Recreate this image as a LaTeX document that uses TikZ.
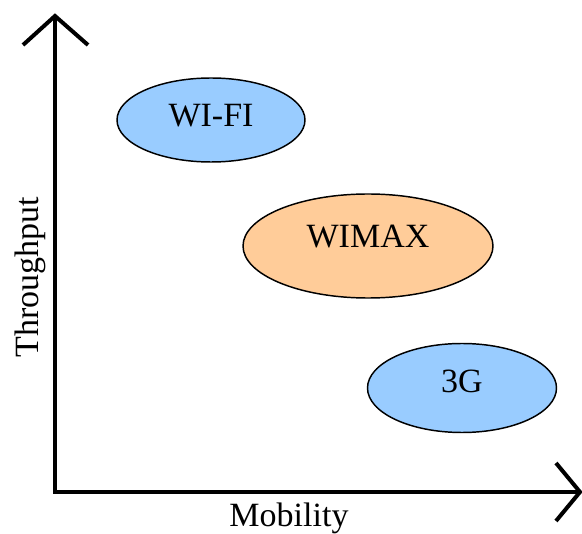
\documentclass[tikz,border=0pt]{standalone}
\usepackage{fontspec}
\setmainfont{Liberation Serif}
\usetikzlibrary{shapes.geometric}
\definecolor{netblue}{HTML}{99CCFF}
\definecolor{netorange}{HTML}{FFCC99}
\begin{document}
\begin{tikzpicture}[x=0.75pt,y=-0.75pt,
    axis/.style={line width=3pt,black,line cap=butt,line join=miter},
    tech/.style={ellipse,draw=black,line width=1.1pt,inner sep=0pt},
    lbl/.style={font=\fontsize{25.5}{30}\selectfont,inner sep=0pt,anchor=base}]
  \useasboundingbox (0,0) rectangle (582,534);
  % axes
  \coordinate (O) at (55,492);
  \coordinate (ytip) at (55,16);
  \coordinate (xtip) at (580,492);
  \draw[axis] (ytip) -- (O) -- (xtip);
  \draw[axis] (23,45) -- (ytip) -- (88,45);
  \draw[axis] (556,463) -- (xtip) -- (556,521);
  % technologies (sizes in pt: 0.75pt per unit)
  \node[tech,fill=netblue,minimum width=141pt,minimum height=63pt] (wifi) at (211,120) {};
  \node[tech,fill=netorange,minimum width=187.5pt,minimum height=78pt] (wimax) at (368,246) {};
  \node[tech,fill=netblue,minimum width=141.75pt,minimum height=66.75pt] (g3) at (462,388) {};
  \node[lbl] (wifit) at (211,127) {WI-FI};
  \node[lbl] (wimaxt) at (368,248) {WIMAX};
  \node[lbl] (g3t) at (462,393) {3G};
  % axis labels
  \node[lbl] (mob) at (289,526) {Mobility};
  \node[lbl,rotate=90,anchor=base west] (thr) at (38,358) {Throughput};
\end{tikzpicture}
\end{document}
